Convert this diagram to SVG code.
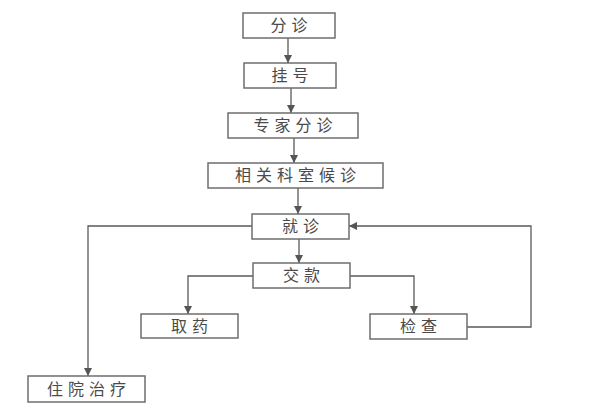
<svg xmlns="http://www.w3.org/2000/svg" width="600" height="413" viewBox="0 0 600 413">
<defs>
<style>
.box{fill:#fff;stroke:#6e6e6e;stroke-width:1.5}
.lbl{font-family:"Noto Sans CJK SC","Noto Sans CJK JP",sans-serif;font-size:16px;fill:#4a4a4a;text-anchor:middle;letter-spacing:5px}
.ln{fill:none;stroke:#5a5a5a;stroke-width:1.3}
</style>
<marker id="ah" viewBox="0 0 10 10" refX="10" refY="5" markerWidth="8" markerHeight="8" markerUnits="userSpaceOnUse" orient="auto">
<path d="M0,0 L10,5 L0,10 z" fill="#555"/>
</marker>
</defs>
<rect width="600" height="413" fill="#fff"/>
<g id="connectors">
<path class="ln" d="M288,38 V63" marker-end="url(#ah)"/>
<path class="ln" d="M291,88 V113" marker-end="url(#ah)"/>
<path class="ln" d="M294,138 V163" marker-end="url(#ah)"/>
<path class="ln" d="M298,188 V214" marker-end="url(#ah)"/>
<path class="ln" d="M299,239 V263" marker-end="url(#ah)"/>
<path class="ln" d="M252,226 H88 V376" marker-end="url(#ah)"/>
<path class="ln" d="M253,276 H188 V314" marker-end="url(#ah)"/>
<path class="ln" d="M350,276 H414 V314" marker-end="url(#ah)"/>
<path class="ln" d="M467,327 H531 V226 H349" marker-end="url(#ah)"/>
</g>
<g id="n1"><rect class="box" x="243" y="13" width="92" height="25"/><text class="lbl" x="291.5" y="31">分诊</text></g>
<g id="n2"><rect class="box" x="244" y="63" width="92" height="25"/><text class="lbl" x="292.5" y="81">挂号</text></g>
<g id="n3"><rect class="box" x="228" y="113" width="130" height="25"/><text class="lbl" x="295.5" y="131">专家分诊</text></g>
<g id="n4"><rect class="box" x="208" y="163" width="175" height="25"/><text class="lbl" x="298" y="181">相关科室候诊</text></g>
<g id="n5"><rect class="box" x="252" y="214" width="97" height="25"/><text class="lbl" x="303" y="232">就诊</text></g>
<g id="n6"><rect class="box" x="253" y="263" width="97" height="25"/><text class="lbl" x="304" y="281">交款</text></g>
<g id="n7"><rect class="box" x="141" y="314" width="97" height="24"/><text class="lbl" x="192" y="332">取药</text></g>
<g id="n8"><rect class="box" x="370" y="314" width="97" height="25"/><text class="lbl" x="421" y="332">检查</text></g>
<g id="n9"><rect class="box" x="28" y="376" width="117" height="26"/><text class="lbl" x="89" y="395">住院治疗</text></g>
</svg>
